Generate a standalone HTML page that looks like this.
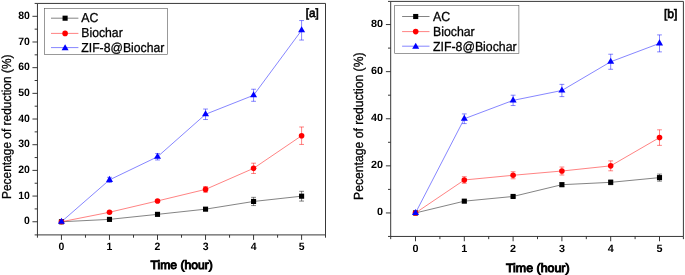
<!DOCTYPE html>
<html lang="en"><head><meta charset="utf-8"><title>Percentage of reduction vs time</title>
<style>html,body{margin:0;padding:0;background:#fff}svg{display:block}text{font-family:"Liberation Sans", Arial, sans-serif;fill:#000;text-rendering:geometricPrecision}</style></head>
<body>
<svg width="685" height="275" viewBox="0 0 685 275">
<rect width="685" height="275" fill="#fff"/>
<g>
<g stroke="#262626" stroke-width="0.92" fill="none">
<path d="M37.45 3.43H325.5V234.9H37.45Z"/>
<path d="M37.45 234.9h-2.8M37.45 221.75h-5M37.45 208.91h-2.8M37.45 196.07h-5M37.45 183.23h-2.8M37.45 170.39h-5M37.45 157.55h-2.8M37.45 144.71h-5M37.45 131.87h-2.8M37.45 119.03h-5M37.45 106.19h-2.8M37.45 93.35h-5M37.45 80.51h-2.8M37.45 67.67h-5M37.45 54.83h-2.8M37.45 41.99h-5M37.45 29.15h-2.8M37.45 16.31h-5M37.45 3.43h-2.8M37.45 234.9v2.8M61.45 234.9v5M85.47 234.9v2.8M109.48 234.9v5M133.5 234.9v2.8M157.51 234.9v5M181.53 234.9v2.8M205.54 234.9v5M229.56 234.9v2.8M253.57 234.9v5M277.58 234.9v2.8M301.6 234.9v5M325.5 234.9v2.8"/>
</g>
<g font-size="10.7" font-weight="bold">
<g text-anchor="end">
<text transform="translate(29.9 224.3) scale(0.98 1)">0</text>
<text transform="translate(29.9 198.62) scale(0.98 1)">10</text>
<text transform="translate(29.9 172.94) scale(0.98 1)">20</text>
<text transform="translate(29.9 147.26) scale(0.98 1)">30</text>
<text transform="translate(29.9 121.58) scale(0.98 1)">40</text>
<text transform="translate(29.9 95.9) scale(0.98 1)">50</text>
<text transform="translate(29.9 70.22) scale(0.98 1)">60</text>
<text transform="translate(29.9 44.54) scale(0.98 1)">70</text>
<text transform="translate(29.9 18.86) scale(0.98 1)">80</text>
</g><g text-anchor="middle">
<text transform="translate(61.45 250.1) scale(0.98 1)">0</text>
<text transform="translate(109.48 250.1) scale(0.98 1)">1</text>
<text transform="translate(157.51 250.1) scale(0.98 1)">2</text>
<text transform="translate(205.54 250.1) scale(0.98 1)">3</text>
<text transform="translate(253.57 250.1) scale(0.98 1)">4</text>
<text transform="translate(301.6 250.1) scale(0.98 1)">5</text>
</g></g>
<text x="181.7" y="269" font-size="12" stroke="#000" stroke-width="0.95" text-anchor="middle" textLength="62.4" lengthAdjust="spacingAndGlyphs">Time (hour)</text>
<text transform="translate(11 126.75) rotate(-90)" font-size="13" stroke="#000" stroke-width="0.3" text-anchor="middle" textLength="144.5" lengthAdjust="spacingAndGlyphs">Pecentage of reduction (%)</text>
<g stroke="#111" stroke-width="0.52" fill="none">
<polyline points="61.45,221.75 109.48,219.39 157.51,214.35 205.54,209.17 253.57,201.46 301.6,196.2"/>
<path d="M205.54 207.88V210.45M203.14 207.88h4.8M203.14 210.45h4.8M253.57 197.35V205.57M251.17 197.35h4.8M251.17 205.57h4.8M301.6 191.32V201.08M299.2 191.32h4.8M299.2 201.08h4.8"/>
</g>
<g><rect x="58.9" y="219.2" width="5.1" height="5.1" fill="#000"/><rect x="106.93" y="216.84" width="5.1" height="5.1" fill="#000"/><rect x="154.96" y="211.8" width="5.1" height="5.1" fill="#000"/><rect x="202.99" y="206.62" width="5.1" height="5.1" fill="#000"/><rect x="251.02" y="198.91" width="5.1" height="5.1" fill="#000"/><rect x="299.05" y="193.65" width="5.1" height="5.1" fill="#000"/></g>
<g stroke="#ff1010" stroke-width="0.52" fill="none">
<polyline points="61.45,221.75 109.48,212.25 157.51,200.95 205.54,189.39 253.57,168.34 301.6,135.72"/>
<path d="M205.54 186.57V192.22M203.14 186.57h4.8M203.14 192.22h4.8M253.57 163.2V173.47M251.17 163.2h4.8M251.17 173.47h4.8M301.6 126.99V144.45M299.2 126.99h4.8M299.2 144.45h4.8"/>
</g>
<g><circle cx="61.45" cy="221.75" r="2.8" fill="#f00"/><circle cx="109.48" cy="212.25" r="2.8" fill="#f00"/><circle cx="157.51" cy="200.95" r="2.8" fill="#f00"/><circle cx="205.54" cy="189.39" r="2.8" fill="#f00"/><circle cx="253.57" cy="168.34" r="2.8" fill="#f00"/><circle cx="301.6" cy="135.72" r="2.8" fill="#f00"/></g>
<g stroke="#1515ff" stroke-width="0.52" fill="none">
<polyline points="61.45,221.75 109.48,179.89 157.51,156.78 205.54,114.28 253.57,95.28 301.6,30.31"/>
<path d="M109.48 177.32V182.46M107.08 177.32h4.8M107.08 182.46h4.8M157.51 153.57V159.99M155.11 153.57h4.8M155.11 159.99h4.8M205.54 109.04V119.52M203.14 109.04h4.8M203.14 119.52h4.8M253.57 89.24V101.31M251.17 89.24h4.8M251.17 101.31h4.8M301.6 20.55V40.06M299.2 20.55h4.8M299.2 40.06h4.8"/>
</g>
<g><path d="M61.45 217.68L64.95 223.78H57.95Z" fill="#00f"/><path d="M109.48 175.82L112.98 181.92H105.98Z" fill="#00f"/><path d="M157.51 152.71L161.01 158.81H154.01Z" fill="#00f"/><path d="M205.54 110.21L209.04 116.31H202.04Z" fill="#00f"/><path d="M253.57 91.21L257.07 97.31H250.07Z" fill="#00f"/><path d="M301.6 26.24L305.1 32.34H298.1Z" fill="#00f"/></g>
<rect x="44.4" y="8.3" width="122.9" height="46.2" fill="#fff" stroke="#555" stroke-width="0.6"/>
<path d="M51 18.2H78.4" stroke="#111" stroke-width="0.52"/>
<rect x="62.55" y="15.65" width="5.1" height="5.1" fill="#000"/>
<text x="81.3" y="22.4" font-size="13" stroke="#000" stroke-width="0.3" textLength="17.1" lengthAdjust="spacingAndGlyphs">AC</text>
<path d="M51 33.4H78.4" stroke="#ff1010" stroke-width="0.52"/>
<circle cx="65.1" cy="33.4" r="2.8" fill="#f00"/>
<text x="81.3" y="37.1" font-size="13" stroke="#000" stroke-width="0.3" textLength="41.4" lengthAdjust="spacingAndGlyphs">Biochar</text>
<path d="M51 47.6H78.4" stroke="#1515ff" stroke-width="0.52"/>
<path d="M65.1 44.13L68.6 50.23H61.6Z" fill="#00f"/>
<text x="81.3" y="52.2" font-size="13" stroke="#000" stroke-width="0.3" textLength="83" lengthAdjust="spacingAndGlyphs">ZIF-8@Biochar</text>
<text x="305.8" y="17.4" font-size="12" stroke="#000" stroke-width="0.65" textLength="12.9" lengthAdjust="spacingAndGlyphs">[a]</text>
</g>
<g>
<g stroke="#262626" stroke-width="0.92" fill="none">
<path d="M390.7 1.4H683.4V236.45H390.7Z"/>
<path d="M390.7 236.45h-2.7M390.7 212.95h-4.8M390.7 189.4h-2.7M390.7 165.85h-4.8M390.7 142.3h-2.7M390.7 118.75h-4.8M390.7 95.2h-2.7M390.7 71.65h-4.8M390.7 48.1h-2.7M390.7 24.55h-4.8M390.7 1.4h-2.7M390.7 236.45v2.7M415.5 236.45v4.8M439.9 236.45v2.7M464.3 236.45v4.8M488.7 236.45v2.7M513.1 236.45v4.8M537.5 236.45v2.7M561.9 236.45v4.8M586.3 236.45v2.7M610.7 236.45v4.8M635.1 236.45v2.7M659.5 236.45v4.8M683.4 236.45v2.7"/>
</g>
<g font-size="10.5" font-weight="bold">
<g text-anchor="end">
<text transform="translate(383.1 215.43) scale(1.03 1)">0</text>
<text transform="translate(383.1 168.33) scale(1.03 1)">20</text>
<text transform="translate(383.1 121.23) scale(1.03 1)">40</text>
<text transform="translate(383.1 74.13) scale(1.03 1)">60</text>
<text transform="translate(383.1 27.03) scale(1.03 1)">80</text>
</g><g text-anchor="middle">
<text transform="translate(415.5 252.2) scale(1.03 1)">0</text>
<text transform="translate(464.3 252.2) scale(1.03 1)">1</text>
<text transform="translate(513.1 252.2) scale(1.03 1)">2</text>
<text transform="translate(561.9 252.2) scale(1.03 1)">3</text>
<text transform="translate(610.7 252.2) scale(1.03 1)">4</text>
<text transform="translate(659.5 252.2) scale(1.03 1)">5</text>
</g></g>
<text x="537.8" y="271.5" font-size="12" stroke="#000" stroke-width="0.95" text-anchor="middle" textLength="63.6" lengthAdjust="spacingAndGlyphs">Time (hour)</text>
<text transform="translate(363.4 126.2) rotate(-90)" font-size="13.2" stroke="#000" stroke-width="0.3" text-anchor="middle" textLength="147.4" lengthAdjust="spacingAndGlyphs">Pecentage of reduction (%)</text>
<g stroke="#111" stroke-width="0.52" fill="none">
<polyline points="415.5,212.95 464.3,201.17 513.1,196.46 561.9,184.69 610.7,182.33 659.5,177.62"/>
<path d="M464.3 200V202.35M461.9 200h4.8M461.9 202.35h4.8M513.1 195.29V197.64M510.7 195.29h4.8M510.7 197.64h4.8M561.9 182.81V186.57M559.5 182.81h4.8M559.5 186.57h4.8M610.7 179.98V184.69M608.3 179.98h4.8M608.3 184.69h4.8M659.5 174.09V181.16M657.1 174.09h4.8M657.1 181.16h4.8"/>
</g>
<g><rect x="412.95" y="210.4" width="5.1" height="5.1" fill="#000"/><rect x="461.75" y="198.62" width="5.1" height="5.1" fill="#000"/><rect x="510.55" y="193.91" width="5.1" height="5.1" fill="#000"/><rect x="559.35" y="182.14" width="5.1" height="5.1" fill="#000"/><rect x="608.15" y="179.78" width="5.1" height="5.1" fill="#000"/><rect x="656.95" y="175.07" width="5.1" height="5.1" fill="#000"/></g>
<g stroke="#ff1010" stroke-width="0.52" fill="none">
<polyline points="415.5,212.95 464.3,179.98 513.1,175.27 561.9,171.03 610.7,165.85 659.5,137.59"/>
<path d="M464.3 176.68V183.28M461.9 176.68h4.8M461.9 183.28h4.8M513.1 171.74V178.8M510.7 171.74h4.8M510.7 178.8h4.8M561.9 167.03V175.03M559.5 167.03h4.8M559.5 175.03h4.8M610.7 160.9V170.8M608.3 160.9h4.8M608.3 170.8h4.8M659.5 129.82V145.36M657.1 129.82h4.8M657.1 145.36h4.8"/>
</g>
<g><circle cx="415.5" cy="212.95" r="2.8" fill="#f00"/><circle cx="464.3" cy="179.98" r="2.8" fill="#f00"/><circle cx="513.1" cy="175.27" r="2.8" fill="#f00"/><circle cx="561.9" cy="171.03" r="2.8" fill="#f00"/><circle cx="610.7" cy="165.85" r="2.8" fill="#f00"/><circle cx="659.5" cy="137.59" r="2.8" fill="#f00"/></g>
<g stroke="#1515ff" stroke-width="0.52" fill="none">
<polyline points="415.5,212.95 464.3,118.75 513.1,100.38 561.9,90.49 610.7,61.76 659.5,43.39"/>
<path d="M464.3 113.92V123.58M461.9 113.92h4.8M461.9 123.58h4.8M513.1 95.2V105.56M510.7 95.2h4.8M510.7 105.56h4.8M561.9 84.37V96.61M559.5 84.37h4.8M559.5 96.61h4.8M610.7 54.22V69.29M608.3 54.22h4.8M608.3 69.29h4.8M659.5 34.91V51.87M657.1 34.91h4.8M657.1 51.87h4.8"/>
</g>
<g><path d="M415.5 208.88L419 214.98H412Z" fill="#00f"/><path d="M464.3 114.68L467.8 120.78H460.8Z" fill="#00f"/><path d="M513.1 96.31L516.6 102.41H509.6Z" fill="#00f"/><path d="M561.9 86.42L565.4 92.52H558.4Z" fill="#00f"/><path d="M610.7 57.69L614.2 63.79H607.2Z" fill="#00f"/><path d="M659.5 39.32L663 45.42H656Z" fill="#00f"/></g>
<rect x="394.7" y="5.5" width="124.2" height="48" fill="#fff" stroke="#555" stroke-width="0.6"/>
<path d="M402.1 16.5H429.5" stroke="#111" stroke-width="0.52"/>
<rect x="413.15" y="13.95" width="5.1" height="5.1" fill="#000"/>
<text x="433" y="20.6" font-size="13.1" stroke="#000" stroke-width="0.3" textLength="17.24" lengthAdjust="spacingAndGlyphs">AC</text>
<path d="M402.1 31.6H429.5" stroke="#ff1010" stroke-width="0.52"/>
<circle cx="415.7" cy="31.6" r="2.8" fill="#f00"/>
<text x="433" y="35.7" font-size="13.1" stroke="#000" stroke-width="0.3" textLength="41.73" lengthAdjust="spacingAndGlyphs">Biochar</text>
<path d="M402.1 46.2H429.5" stroke="#1515ff" stroke-width="0.52"/>
<path d="M415.7 42.73L419.2 48.83H412.2Z" fill="#00f"/>
<text x="433" y="50.9" font-size="13.1" stroke="#000" stroke-width="0.3" textLength="83.66" lengthAdjust="spacingAndGlyphs">ZIF-8@Biochar</text>
<text x="664" y="18" font-size="12.3" stroke="#000" stroke-width="0.65" textLength="13.5" lengthAdjust="spacingAndGlyphs">[b]</text>
</g>
</svg>
</body></html>
